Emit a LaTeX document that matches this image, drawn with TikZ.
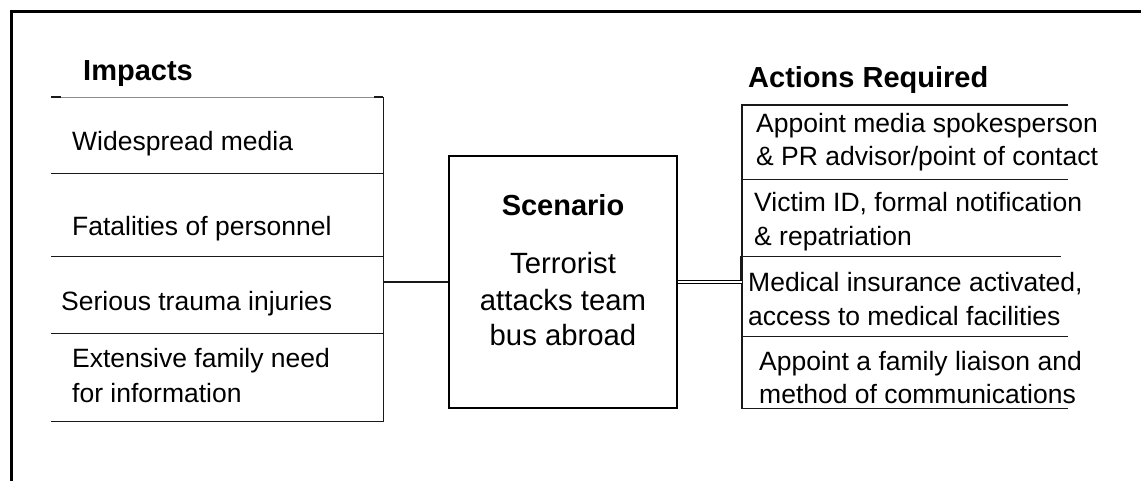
\documentclass[tikz,border=0pt]{standalone}
\usepackage{fontspec}
\setmainfont{Liberation Sans}
\begin{document}
\begin{tikzpicture}[x=1pt,y=-1pt,
  txt/.style={font=\fontsize{26.5}{32}\selectfont, inner sep=0pt, anchor=base west},
  head/.style={font=\fontsize{29}{34}\selectfont\bfseries, inner sep=0pt, anchor=base west},
  ctxt/.style={font=\fontsize{29.3}{35}\selectfont, inner sep=0pt, anchor=base},
  chead/.style={font=\fontsize{29}{34}\selectfont\bfseries, inner sep=0pt, anchor=base},
  cell/.style={inner sep=0pt, anchor=north west},
  rule/.style={line width=1.4pt, black!90},
  frame/.style={line width=3pt}]
\useasboundingbox (0,0) rectangle (1141,480);
\clip (0,0) rectangle (1141,480);
\draw[frame] (11,11) rectangle (1200,530);

% left panel cells
\node[cell, minimum width=332pt, minimum height=76pt] (imp1) at (51,97) {};
\node[cell, minimum width=332pt, minimum height=83pt] (imp2) at (51,173) {};
\node[cell, minimum width=332pt, minimum height=77pt] (imp3) at (51,256) {};
\node[cell, minimum width=332pt, minimum height=88pt] (imp4) at (51,333) {};
\node[cell, minimum width=332pt, minimum height=324pt] (leftpanel) at (51,97) {};

\draw[line width=1pt, black!45] (imp1.north west) -- (imp1.north east);
\draw[rule] (imp1.north west) -- ++(10,0);
\draw[rule] (imp1.north east) -- ++(-9,0);
\draw[rule] (imp1.north east) -- (imp4.south east) -- (imp4.south west);
\draw[rule] (imp1.south west) -- (imp1.south east);
\draw[rule] (imp2.south west) -- (imp2.south east);
\draw[rule] (imp3.south west) -- (imp3.south east);

% right panel cells
\node[cell, minimum width=326pt, minimum height=74pt] (act1) at (742,105) {};
\node[cell, minimum width=326pt, minimum height=77pt] (act2) at (742,179) {};
\node[cell, minimum width=326pt, minimum height=80pt] (act3) at (742,256) {};
\node[cell, minimum width=326pt, minimum height=72pt] (act4) at (742,336) {};
\node[cell, minimum width=326pt, minimum height=303pt] (rightpanel) at (742,105) {};

\draw[rule] (act1.north east) -- (act1.north west) -- (act4.south west) -- (act4.south east);
\draw[rule] (act1.south west) -- (act1.south east);
\draw[rule] (act2.south west) -- ([xshift=-7pt]act2.south east);
\draw[rule] (act3.south west) -- (act3.south east);
\draw[rule] ([xshift=-1.5pt]act3.north west) -- ([xshift=-1.5pt,yshift=-24pt]act3.north west);

% scenario box
\node[draw, line width=2.2pt, minimum width=228pt, minimum height=252pt, inner sep=0pt] (scenario) at (563,282) {};

% connectors
\draw[rule] (scenario.west) -- (scenario.west -| leftpanel.east);
\draw[line width=1pt, double=white, double distance=1.4pt] (scenario.east) -- (scenario.east -| rightpanel.west);

% headings
\node[head] (himp) at (83,80) {Impacts};
\node[head] (hact) at (748,87) {Actions Required};

% left texts
\node[txt] (t1) at (72,150) {Widespread media};
\node[txt] (t2) at (72,235) {Fatalities of personnel};
\node[txt] (t3) at (61,310) {Serious trauma injuries};
\node[txt] (t4a) at (72,367) {Extensive family need};
\node[txt] (t4b) at (72,402) {for information};

% scenario texts
\node[chead] (s0) at (563,215) {Scenario};
\node[ctxt] (s1) at (563,273) {Terrorist};
\node[ctxt] (s2) at (563,310) {attacks team};
\node[ctxt] (s3) at (563,345) {bus abroad};

% right texts
\node[txt] (a1a) at (756,132) {Appoint media spokesperson};
\node[txt] (a1b) at (756,165) {\& PR advisor/point of contact};
\node[txt] (a2a) at (754,211) {Victim ID, formal notification};
\node[txt] (a2b) at (754,245) {\& repatriation};
\node[txt] (a3a) at (748,291) {Medical insurance activated,};
\node[txt] (a3b) at (748,325) {access to medical facilities};
\node[txt] (a4a) at (759,370) {Appoint a family liaison and};
\node[txt] (a4b) at (759,403) {method of communications};
\end{tikzpicture}
\end{document}
